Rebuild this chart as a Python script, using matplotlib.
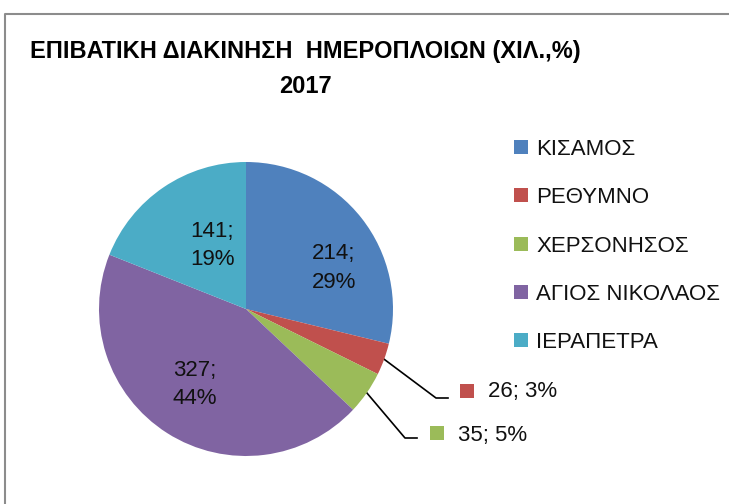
import matplotlib
matplotlib.use('Agg')
import numpy as np
from matplotlib import pyplot as plt
from matplotlib.lines import Line2D

plt.rcParams['font.family'] = ['Liberation Sans', 'DejaVu Sans']

ports = ['ΚΙΣΑΜΟΣ', 'ΡΕΘΥΜΝΟ', 'ΧΕΡΣΟΝΗΣΟΣ', 'ΑΓΙΟΣ ΝΙΚΟΛΑΟΣ', 'ΙΕΡΑΠΕΤΡΑ']
passengers = [214, 26, 35, 327, 141]
percents = [29, 3, 5, 44, 19]
colors = ['#4F81BD', '#C0504D', '#9BBB59', '#8064A2', '#4BACC6']

W, H = 729, 504
fig = plt.figure(figsize=(W / 100, H / 100), dpi=100)

# frame of the chart area (cropped on the right and bottom)
frame = fig.add_axes([0, 0, 1, 1])
frame.set_xlim(0, W)
frame.set_ylim(H, 0)
frame.axis('off')
frame.plot([5, 5, W + 5], [H + 5, 14, 14], color='#8c8c8c', lw=1.5)

# pie: center (246, 309) px, radius 147 px
cx, cy, r = 246, 309, 147
ax = fig.add_axes([(cx - r) / W, (H - cy - r) / H, 2 * r / W, 2 * r / H])
wedges, _ = ax.pie(passengers, colors=colors, startangle=90, counterclock=False,
                   wedgeprops=dict(linewidth=0))
ax.set_xlim(-1, 1)
ax.set_ylim(-1, 1)
ax.axis('off')

# labels inside the big slices (angle in deg, radius fraction)
inside = {0: (25, 0.66), 3: (-124, 0.62), 4: (118, 0.49)}
for i, (ang, rad) in inside.items():
    a = np.deg2rad(ang)
    ax.text(rad * np.cos(a), rad * np.sin(a), f'{passengers[i]};\n{percents[i]}%',
            ha='center', va='center', fontsize=16, linespacing=1.45, color='#111111')

# small slices: leader lines with a colour key and label outside
outside = {1: ((436, 398), (448, 398), (467, 391), (488, 392)),
           2: ((405, 438), (417, 438), (437, 433), (458, 435))}
for i, (elbow, end, key, txt) in outside.items():
    w = wedges[i]
    mid = np.deg2rad((w.theta1 + w.theta2) / 2)
    x0, y0 = cx + r * np.cos(mid), cy - r * np.sin(mid)
    frame.plot([x0, elbow[0], end[0]], [y0, elbow[1], end[1]], color='black', lw=1.2)
    frame.plot(key[0], key[1], marker='s', ms=10.5, color=colors[i], mew=0)
    frame.text(txt[0], txt[1], f'{passengers[i]}; {percents[i]}%', ha='left', va='center',
               fontsize=16, color='#111111')

fig.text(305 / W, 1 - 69 / H, 'ΕΠΙΒΑΤΙΚΗ ΔΙΑΚΙΝΗΣΗ  ΗΜΕΡΟΠΛΟΙΩΝ (ΧΙΛ.,%)\n2017',
         ha='center', va='center', fontsize=17, fontweight='bold', linespacing=1.65)

handles = [Line2D([], [], marker='s', ls='none', ms=10.5, color=c, mew=0) for c in colors]
fig.legend(handles, ports, loc='upper left', bbox_to_anchor=(503 / W, 1 - 130 / H),
           frameon=False, fontsize=16, handlelength=0.8, handletextpad=0.3,
           labelspacing=1.23, borderaxespad=0, labelcolor='#111111')

fig.savefig('out.png', dpi=100)
